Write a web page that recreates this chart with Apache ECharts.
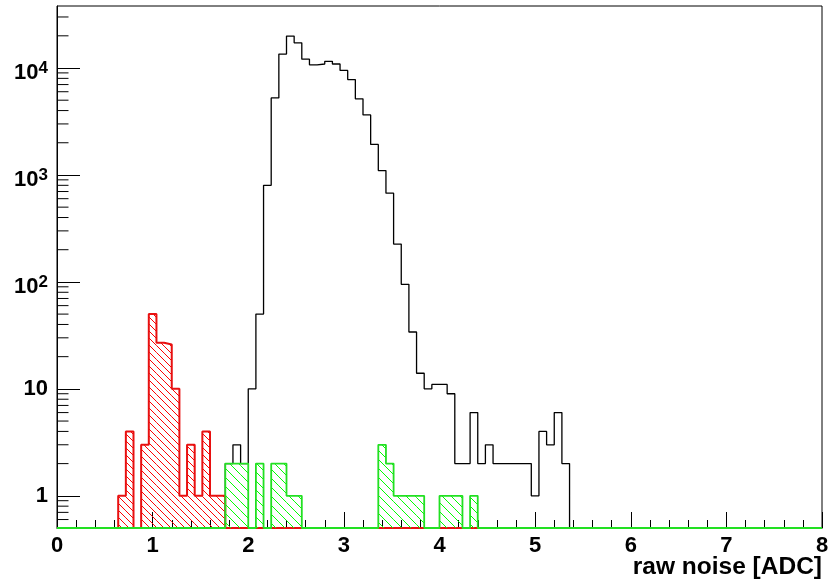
<!DOCTYPE html>
<html><head><meta charset="utf-8">
<script src="https://cdn.jsdelivr.net/npm/echarts@6/dist/echarts.min.js"></script>
<style>html,body{margin:0;padding:0;background:#fff}#c{width:832px;height:584px}</style>
</head><body><div id="c"></div>
<script>
// Histogram: 100 bins of width 0.08 on [0, 8]
const binWidth = 0.08;
const blackCounts = [
  0,0,0,0,0,0,0,0,0,0,
  0,0,0,0,0,0,0,0,0,0,
  0,0,2,3,2,10,50,800,5250,13500,
  19900,17200,12100,10700,10900,11550,10900,9500,7800,5150,
  3640,1930,1100,675,226,95,34,14,10,11,
  11,9,2,2,6,2,3,2,2,2,
  2,2,1,4,3,6,2,0,0,0,
  0,0,0,0,0,0,0,0,0,0,
  0,0,0,0,0,0,0,0,0,0,
  0,0,0,0,0,0,0,0,0,0
];
const redCounts = [
  0,0,0,0,0,0,0,0,1,4,
  0,3,50,27,26,10,1,3,1,4,
  1,1,0,0,0,0,0,0,0,0,
  0,0,0,0,0,0,0,0,0,0,
  0,0,0,0,0,0,0,0,0,0,
  0,0,0,0,0,0,0,0,0,0,
  0,0,0,0,0,0,0,0,0,0,
  0,0,0,0,0,0,0,0,0,0,
  0,0,0,0,0,0,0,0,0,0,
  0,0,0,0,0,0,0,0,0,0
];
const greenCounts = [
  0,0,0,0,0,0,0,0,0,0,
  0,0,0,0,0,0,0,0,0,0,
  0,0,2,2,2,0,2,0,2,2,
  1,1,0,0,0,0,0,0,0,0,
  0,0,3,2,1,1,1,1,0,0,
  1,1,1,0,1,0,0,0,0,0,
  0,0,0,0,0,0,0,0,0,0,
  0,0,0,0,0,0,0,0,0,0,
  0,0,0,0,0,0,0,0,0,0,
  0,0,0,0,0,0,0,0,0,0
];
const xTickLabels = ['0','1','2','3','4','5','6','7','8'];
const yTickValues = [1, 10, 100, 1000, 10000];
const yTickLabels = ['1', '10', '{b|10}{s|2}', '{b|10}{s|3}', '{b|10}{s|4}'];
const yMin = 0.5, yMax = 38000;
const xTitle = 'raw noise [ADC]';

const FONT = '"Liberation Sans", Arial, Helvetica, sans-serif';

function outline(counts) {
  const pts = [];
  counts.forEach((c, i) => {
    const v = c > 0 ? c : yMin;
    pts.push([i * binWidth, v], [(i + 1) * binWidth, v]);
  });
  return pts;
}
function boxes(counts) {
  const out = [];
  counts.forEach((c, i) => { if (c > 0) out.push([i * binWidth, (i + 1) * binWidth, c]); });
  return out;
}
function hatch(color, s, lw) {
  const c = document.createElement('canvas');
  c.width = s; c.height = s;
  const g = c.getContext('2d');
  g.strokeStyle = color; g.lineWidth = lw;
  g.beginPath();
  g.moveTo(-1, -1); g.lineTo(s + 1, s + 1);
  g.moveTo(-1, s - 1); g.lineTo(1, s + 1);
  g.moveTo(s - 1, -1); g.lineTo(s + 1, 1);
  g.stroke();
  return c;
}
const redPattern = hatch('#ff0000', 7, 1);
const greenPattern = hatch('#00ff00', 9, 1);

function boxRender(pattern) {
  return function (params, api) {
    const p0 = api.coord([api.value(0), yMin]);
    const p1 = api.coord([api.value(1), api.value(2)]);
    return {
      type: 'rect',
      shape: { x: p0[0], y: p1[1], width: p1[0] - p0[0], height: p0[1] - p1[1] },
      style: { fill: { image: pattern, repeat: 'repeat' }, stroke: null }
    };
  };
}

const yMinor = [];
for (let e = -1; e <= 4; e++) {
  for (let k = 2; k <= 9; k++) {
    const v = k * Math.pow(10, e);
    if (v > yMin && v < yMax) yMinor.push([0, v]);
  }
}

const chart = echarts.init(document.getElementById('c'));
chart.setOption({
  animation: false,
  backgroundColor: '#fff',
  grid: { left: 57, right: 10, top: 6, bottom: 56, show: true, borderColor: '#000', borderWidth: 1,
          backgroundColor: 'transparent', containLabel: false, outerBoundsMode: 'none' },
  xAxis: {
    type: 'value', min: 0, max: 8, interval: 1,
    axisLine: { show: true, lineStyle: { color: '#000', width: 1 } },
    axisTick: { show: true, inside: true, length: 16, lineStyle: { color: '#000', width: 1 } },
    minorTick: { show: true, splitNumber: 5, length: 8, lineStyle: { color: '#000', width: 1 } },
    splitLine: { show: false },
    axisLabel: {
      margin: 7, color: '#000', fontSize: 22, fontWeight: 'bold', fontFamily: FONT,
      formatter: v => xTickLabels[Math.round(v)] ?? ''
    },
    name: xTitle, nameLocation: 'end', nameGap: 0, nameMoveOverlap: false,
    nameTextStyle: { color: '#000', fontSize: 24.5, fontWeight: 'bold', fontFamily: FONT, align: 'right', verticalAlign: 'top', padding: [27, 0, 0, 0] }
  },
  yAxis: {
    type: 'log', logBase: 10, min: yMin, max: yMax,
    axisLine: { show: true, lineStyle: { color: '#000', width: 1 } },
    axisTick: { show: true, inside: true, length: 23, lineStyle: { color: '#000', width: 1 } },
    minorTick: { show: false },
    splitLine: { show: false },
    axisLabel: {
      margin: 9, color: '#000', fontSize: 22, fontWeight: 'bold', fontFamily: FONT,
      showMinLabel: false, showMaxLabel: false,
      formatter: v => {
        for (let i = 0; i < yTickValues.length; i++) {
          if (Math.abs(Math.log10(v) - Math.log10(yTickValues[i])) < 1e-6) return yTickLabels[i];
        }
        return '';
      },
      rich: {
        b: { fontSize: 22, fontWeight: 'bold', fontFamily: FONT, color: '#000', lineHeight: 32, verticalAlign: 'bottom' },
        s: { fontSize: 17, fontWeight: 'bold', fontFamily: FONT, color: '#000', verticalAlign: 'middle' }
      }
    }
  },
  series: [
    { name: 'all', type: 'line', data: outline(blackCounts), symbol: 'none', clip: false,
      lineStyle: { color: '#000', width: 1.3 }, z: 2 },
    { name: 'red fill', type: 'custom', data: boxes(redCounts), renderItem: boxRender(redPattern), silent: true, z: 3 },
    { name: 'red', type: 'line', data: outline(redCounts), symbol: 'none', clip: false,
      lineStyle: { color: '#e81010', width: 2 }, z: 4 },
    { name: 'green fill', type: 'custom', data: boxes(greenCounts), renderItem: boxRender(greenPattern), silent: true, z: 5 },
    { name: 'green', type: 'line', data: outline(greenCounts), symbol: 'none', clip: false,
      lineStyle: { color: '#22e022', width: 1.8 }, z: 6 },
    { name: 'yminor', type: 'custom', data: yMinor, silent: true, z: 7,
      renderItem: (params, api) => {
        const p = api.coord([api.value(0), api.value(1)]);
        return { type: 'line', shape: { x1: p[0], y1: p[1], x2: p[0] + 11.5, y2: p[1] }, style: { stroke: '#000', lineWidth: 1 } };
      } }
  ]
});
</script>
</body></html>
